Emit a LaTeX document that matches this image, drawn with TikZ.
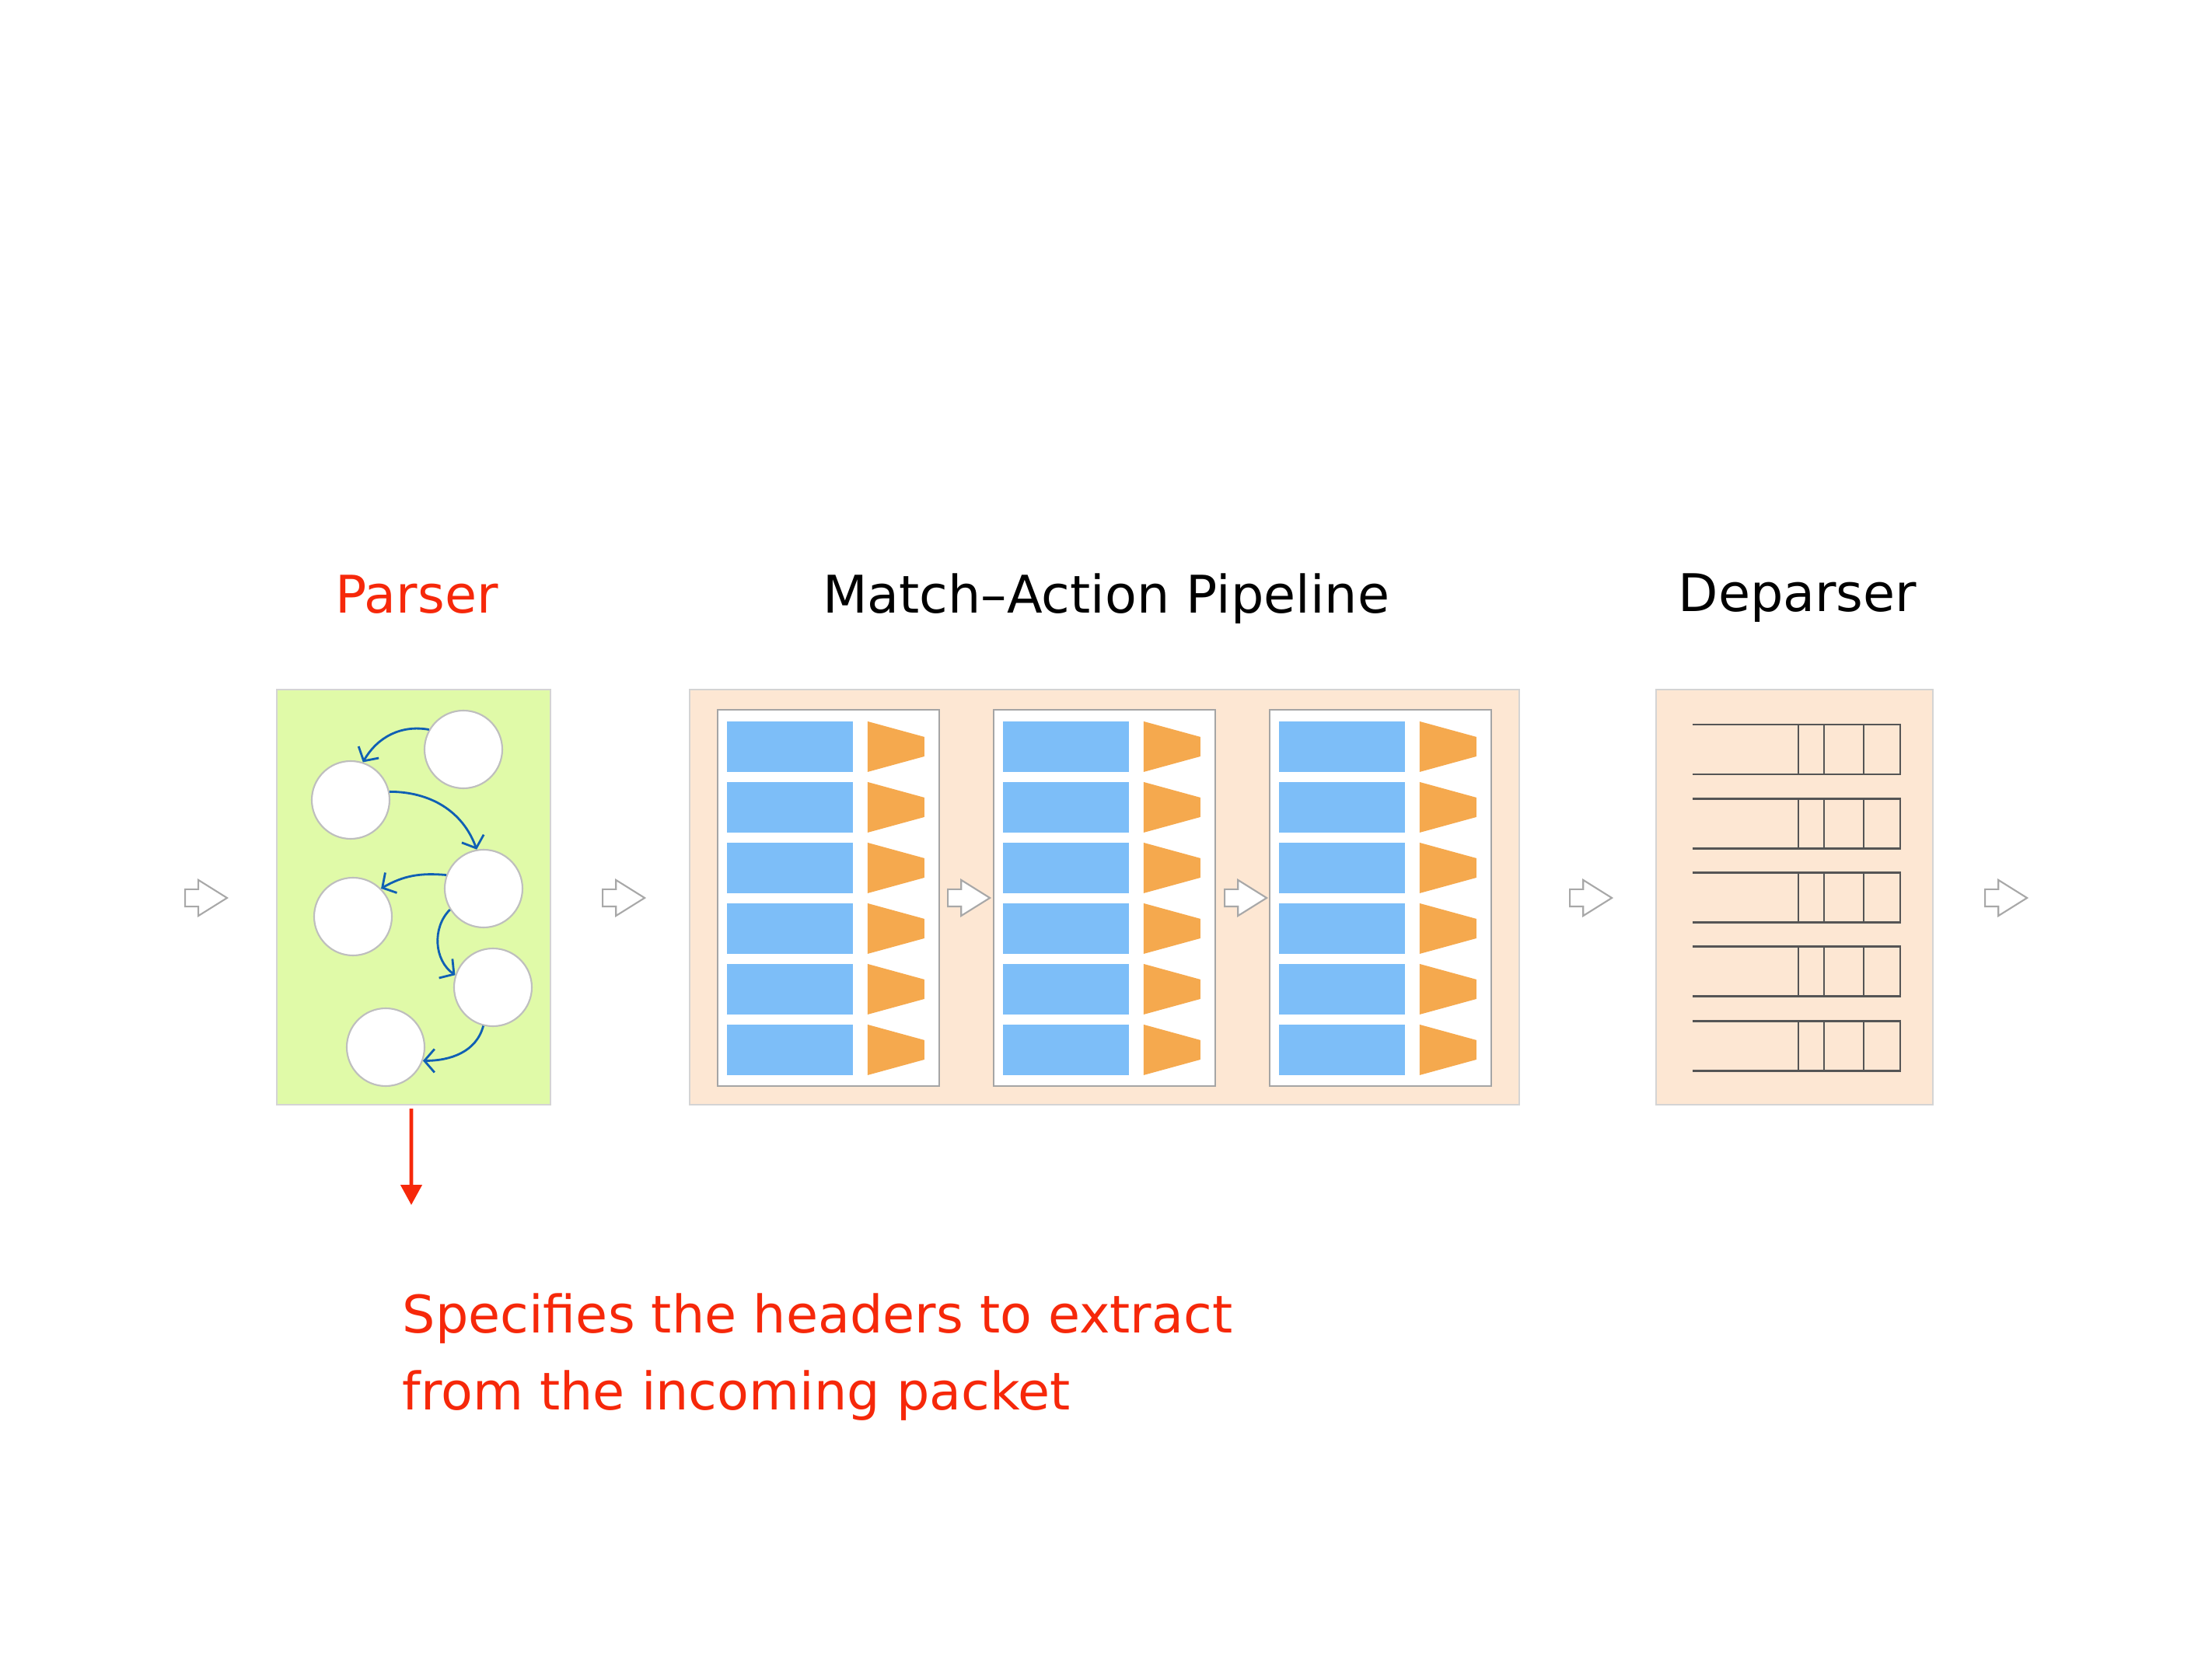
\documentclass[tikz,border=0pt]{standalone}
\usepackage{fontspec}
\setmainfont{DejaVu Sans}
\usetikzlibrary{arrows.meta,positioning,calc,shapes.arrows}
\definecolor{psGreen}  {RGB}{224,250,168}
\definecolor{psPeach}  {RGB}{253,231,211}
\definecolor{psFrame}  {RGB}{212,212,212}
\definecolor{psStage}  {RGB}{165,165,165}
\definecolor{psBlue}   {RGB}{125,190,248}
\definecolor{psOrange} {RGB}{245,169, 78}
\definecolor{psArrow}  {RGB}{168,168,168}
\definecolor{psCircle} {RGB}{190,190,190}
\definecolor{psTrans}  {RGB}{ 16, 96,180}
\definecolor{psField}  {RGB}{ 85, 85, 85}
\definecolor{psRed}    {RGB}{246, 40, 10}

\begin{document}
\begin{tikzpicture}[
  every node/.style={font=\fontsize{19}{27.9}\selectfont},
  block/.style={draw=psFrame,line width=0.6pt,minimum height=5.34cm,inner sep=0pt},
  title/.style={anchor=base},
  stagebox/.style={draw=psStage,line width=0.6pt,fill=white,minimum width=2.85cm,
                   minimum height=4.84cm,anchor=north west,inner sep=0pt},
  state/.style={circle,draw=psCircle,line width=0.6pt,fill=white,
                minimum size=1.0cm,inner sep=0pt},
  trans/.style={draw=psTrans,line width=0.8pt,-{Straight Barb[length=1.3mm,width=3mm]}},
  flow/.style={single arrow,draw=psArrow,line width=0.6pt,fill=white,
               minimum height=0.54cm,inner xsep=0pt,inner ysep=0.1cm,
               single arrow head extend=0.12cm,single arrow tip angle=64,anchor=tail},
  field/.style={draw=psField,line width=0.8pt}
]
\useasboundingbox (0,0) rectangle (28.45,-21.34);

% the three blocks
\node[block,fill=psGreen,minimum width=3.52cm] (parser) at (5.32,-11.54) {};
\node[block,fill=psPeach,minimum width=10.67cm] (pipe) at (14.205,-11.54) {};
\node[block,fill=psPeach,minimum width=3.56cm] (deparser) at (23.08,-11.54) {};

\node[title,text=psRed] (tparser) at ($(parser.north)+(0.04,0.97)$) {Parser};
\node[title] (tpipe) at ($(pipe.north)+(0.02,0.97)$) {Match–Action Pipeline};
\node[title] (tdeparser) at ($(deparser.north)+(0.04,0.99)$) {Deparser};

% parse graph
\node[state] (p1) at (5.96,-9.64) {};
\node[state] (p2) at (4.51,-10.29) {};
\node[state] (p3) at (6.22,-11.43) {};
\node[state] (p4) at (4.54,-11.79) {};
\node[state] (p5) at (6.34,-12.70) {};
\node[state] (p6) at (4.96,-13.47) {};
\draw[trans] (p1.150) to[out=170,in=60]  (p2.72);
\draw[trans] (p2.12)  to[out=0,in=110]   (p3.100);
\draw[trans] (p3.160) to[out=175,in=30]  (p4.45);
\draw[trans] (p3.212) to[out=225,in=145] (p5.162);
\draw[trans] (p5.256) to[out=255,in=0]   (p6.340);

% match-action stages
\foreach \s in {1,2,3}{
  \node[stagebox] (stage\s) at ($(pipe.north west)+({0.36+3.55*(\s-1)},-0.26)$) {};
  \foreach \r in {1,...,6}{
    \fill[psBlue] ($(stage\s.north west)+(0.13,{-0.16-0.78*(\r-1)})$) rectangle ++(1.62,-0.65);
    \fill[psOrange] ($(stage\s.north west)+(1.94,{-0.16-0.78*(\r-1)})$)
      -- ++(0.73,-0.20) -- ++(0,-0.25) -- ++(-0.73,-0.20) -- cycle;
  }
}

% deparser fields
\foreach \r in {0,...,4}{
  \draw[field] ($(deparser.north west)+(0.48,{-0.46-0.953*\r})$)
    -- ++(2.67,0) -- ++(0,-0.64) -- ++(-2.67,0);
  \foreach \v in {1.36,1.69,2.20}
    \draw[field] ($(deparser.north west)+({0.48+\v},{-0.46-0.953*\r})$) -- ++(0,-0.64);
}

% packet flow
\node[flow] (fin)  at (2.37,-11.55) {};
\node[flow] (f1)   at ($(parser.east)+(0.65,-0.01)$) {};
\node[flow] (f2)   at ($(stage1.east)+(0.09,0)$) {};
\node[flow] (f3)   at ($(stage2.east)+(0.10,0)$) {};
\node[flow] (f4)   at ($(pipe.east)+(0.63,-0.01)$) {};
\node[flow] (fout) at ($(deparser.east)+(0.65,-0.01)$) {};

% annotation
\coordinate (tip) at (5.29,-15.50);
\draw[psRed,line width=1.3pt,-{Triangle[length=2.6mm,width=2.7mm]}]
  ($(parser.south)+(-0.03,-0.04)$) -- (tip);
\node[text=psRed,anchor=base west,align=left,inner sep=0pt] (note) at (5.17,-18.13)
  {Specifies the headers to extract\\from the incoming packet};
\end{tikzpicture}
\end{document}
